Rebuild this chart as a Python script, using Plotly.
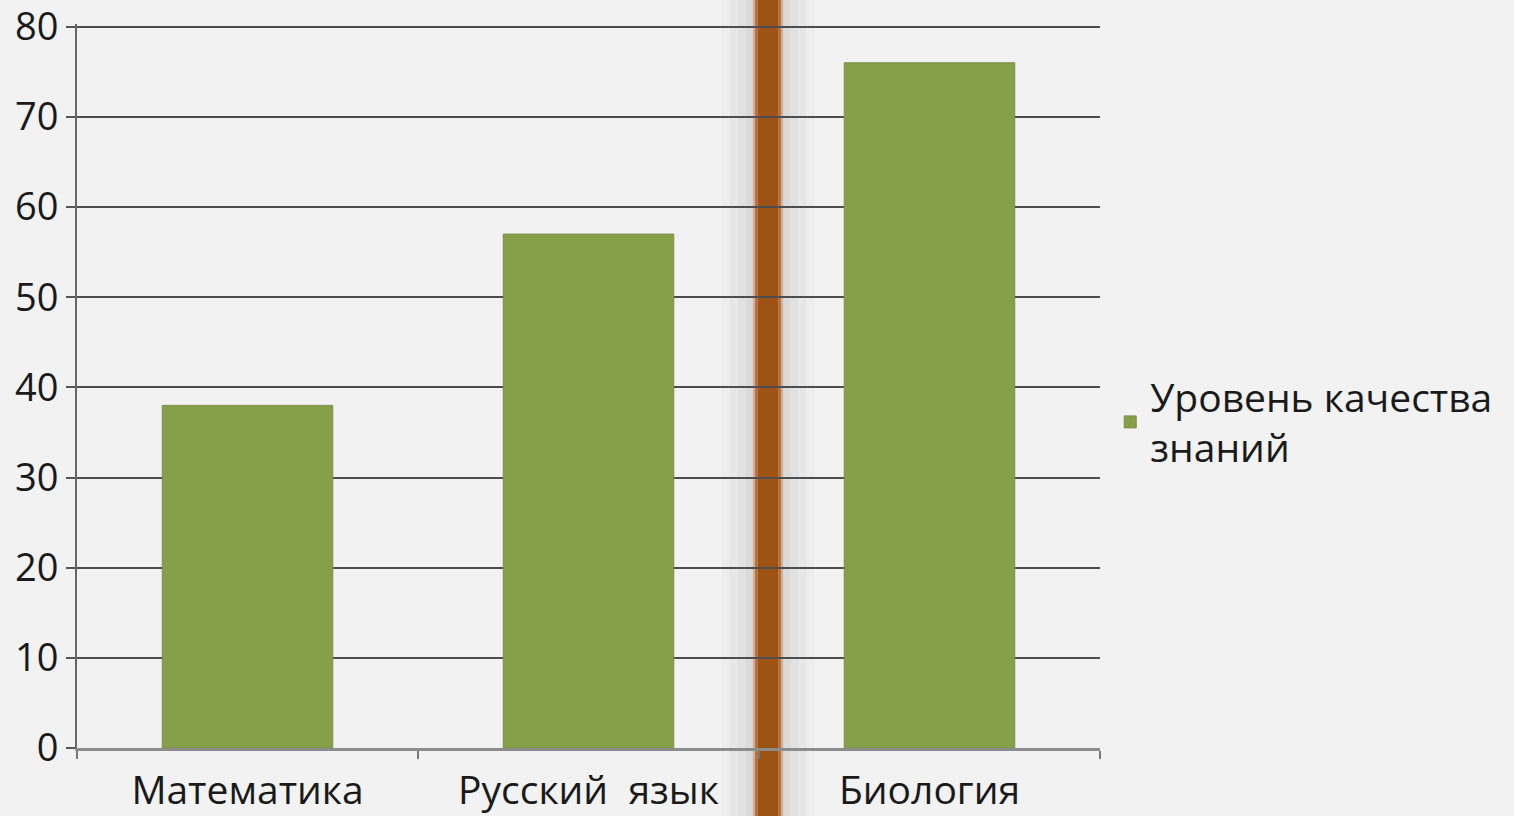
import plotly.graph_objects as go

predmety = ["Математика", "Русский  язык", "Биология"]
kachestvo = [38, 57, 76]
y_ticks = [0, 10, 20, 30, 40, 50, 60, 70, 80]
legenda = "Уровень качества<br>знаний"

fig = go.Figure()

fig.add_trace(go.Bar(
    name=legenda,
    x=predmety,
    y=kachestvo,
    marker_color="#86a04a",
    marker_line=dict(color="#7a8f48", width=1),
    width=0.5,
))

# decorative slide stripe with soft grey shadow (paper coords)
sx = (768 - 77) / 1023
px = 1 / 1023
shapes = []
for half, op in [(46, 0.04), (38, 0.05), (30, 0.06), (22, 0.07), (16, 0.07)]:
    shapes.append(dict(type="rect", xref="paper", yref="paper",
                       x0=sx - half * px, x1=sx + half * px, y0=-0.1, y1=1.04,
                       fillcolor="#808080", opacity=op, line_width=0, layer="below"))
shapes.append(dict(type="rect", xref="paper", yref="paper",
                   x0=sx - 15 * px, x1=sx + 15 * px, y0=-0.1, y1=1.04,
                   fillcolor="#d2a27c", opacity=0.7, line_width=0, layer="below"))
shapes.append(dict(type="rect", xref="paper", yref="paper",
                   x0=sx - 13 * px, x1=sx + 13 * px, y0=-0.1, y1=1.04,
                   fillcolor="#b87440", line_width=0, layer="below"))
shapes.append(dict(type="rect", xref="paper", yref="paper",
                   x0=sx - 10 * px, x1=sx + 10 * px, y0=-0.1, y1=1.04,
                   fillcolor="#9e5315", line_width=0, layer="below"))

fig.update_layout(
    shapes=shapes,
    width=1514,
    height=816,
    margin=dict(l=77, r=414, t=24, b=68, autoexpand=False),
    paper_bgcolor="#f2f2f2",
    plot_bgcolor="#f2f2f2",
    font=dict(family="Open Sans", size=40, color="#1a1a1a"),
    showlegend=True,
    legend=dict(x=1.01, y=0.45, xanchor="left", yanchor="middle",
                bgcolor="rgba(0,0,0,0)", font=dict(size=39),
                itemwidth=30, tracegroupgap=0),
    bargap=0.5,
)

fig.update_xaxes(
    type="category",
    tickson="boundaries",
    ticks="outside",
    ticklen=8,
    tickwidth=2,
    tickcolor="#777777",
    showline=True,
    linecolor="#8c8c8c",
    linewidth=3,
    showgrid=False,
    automargin=False,
    ticklabelstandoff=6,
    ticklabeloverflow="allow",
    tickfont=dict(size=39),
)

fig.update_yaxes(
    range=[0, 80.3],
    tickvals=y_ticks,
    ticks="outside",
    ticklen=9,
    tickwidth=2,
    tickcolor="#555555",
    showline=True,
    linecolor="#666666",
    linewidth=2,
    showgrid=True,
    gridcolor="#4d4d4d",
    gridwidth=2,
    zeroline=False,
    automargin=False,
    ticklabeloverflow="allow",
    tickfont=dict(size=38),
)

fig.write_html("out.html", config={"displayModeBar": False},
               post_script="document.body.style.margin='0px';")
